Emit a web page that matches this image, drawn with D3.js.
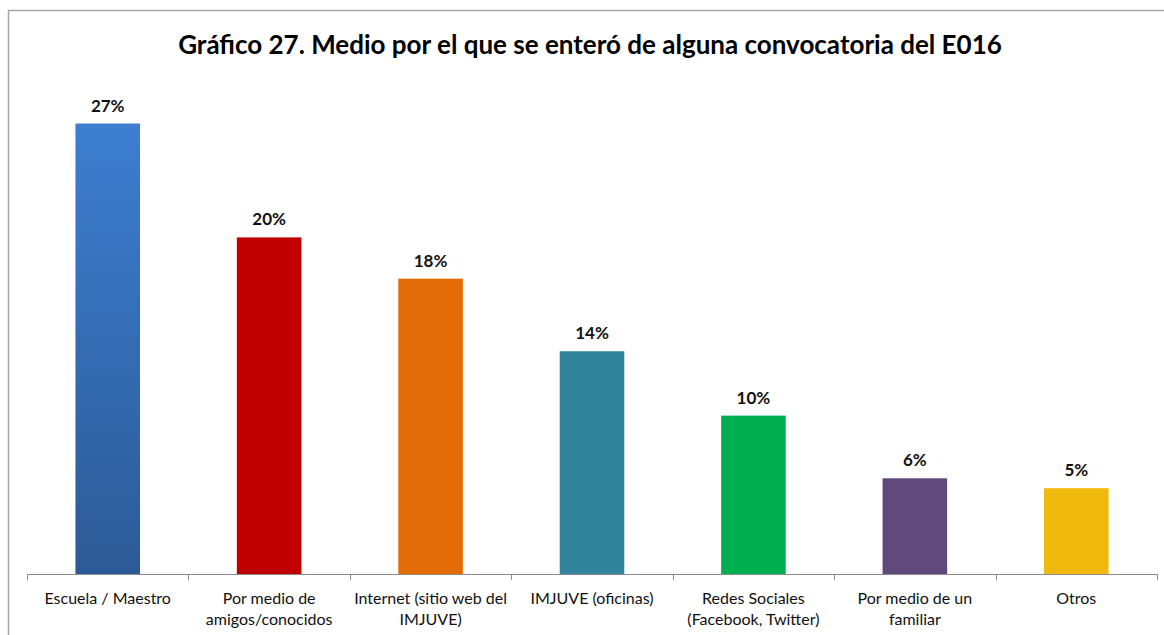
<!DOCTYPE html>
<html>
<head>
<meta charset="utf-8">
<script src="https://cdn.jsdelivr.net/npm/d3@7"></script>
<style>
    body { margin: 0; background: #fff; }
    svg { display: block; font-family: Lato, "Open Sans", sans-serif; }
</style>
</head>
<body>
<div id="chart"></div>
<script>
// Data_____________________________________________________________
const categories = [
    ["Escuela / Maestro"],
    ["Por medio de", "amigos/conocidos"],
    ["Internet (sitio web del", "IMJUVE)"],
    ["IMJUVE (oficinas)"],
    ["Redes Sociales", "(Facebook, Twitter)"],
    ["Por medio de un", "familiar"],
    ["Otros"]
];
const values = [27.3, 20.4, 17.9, 13.5, 9.6, 5.8, 5.2];
const valueLabels = ["27%", "20%", "18%", "14%", "10%", "6%", "5%"];
const barColors = ["url(#blueGrad)", "#C00000", "#E36C09", "#31849B", "#00B050", "#604A7B", "#F0B90E"];
const title = "Gráfico 27. Medio por el que se enteró de alguna convocatoria del E016";

// Layout____________________________________________________________
const width = 1164;
const height = 635;
const axisY = 574;
const xLeft = 27;
const xRight = 1157;

const svg = d3.select("#chart")
    .append("svg")
    .attr("width", width)
    .attr("height", height);

// gradient for first bar
const grad = svg.append("defs")
    .append("linearGradient")
    .attr("id", "blueGrad")
    .attr("x1", 0).attr("y1", 0)
    .attr("x2", 0).attr("y2", 1);
grad.append("stop").attr("offset", "0%").attr("stop-color", "#3D7ED1");
grad.append("stop").attr("offset", "100%").attr("stop-color", "#2C5A96");

// chart frame (left + top edges visible)
svg.append("path")
    .attr("d", `M8.5,${height} L8.5,10.5 L${width},10.5`)
    .attr("fill", "none")
    .attr("stroke", "#A6A6A6")
    .attr("stroke-width", 1.5);

svg.append("text")
    .attr("x", 590)
    .attr("y", 54)
    .attr("text-anchor", "middle")
    .attr("font-size", 26)
    .attr("font-weight", "bold")
    .attr("fill", "#000")
    .text(title);

// Scales____________________________________________________________
const xScale = d3.scaleBand()
    .domain(d3.range(categories.length))
    .range([xLeft, xRight])
    .paddingInner(0.6)
    .paddingOuter(0.3);

const yScale = d3.scaleLinear()
    .domain([0, 30])
    .range([axisY, axisY - 30 * 16.5]);

// Bars_______________________________________________________________
svg.selectAll("rect.bar")
    .data(values)
    .enter()
    .append("rect")
    .attr("class", "bar")
    .attr("x", (d, i) => xScale(i))
    .attr("y", d => yScale(d))
    .attr("width", xScale.bandwidth())
    .attr("height", d => axisY - yScale(d))
    .attr("fill", (d, i) => barColors[i]);

svg.selectAll("text.val")
    .data(values)
    .enter()
    .append("text")
    .attr("class", "val")
    .attr("x", (d, i) => xScale(i) + xScale.bandwidth() / 2)
    .attr("y", d => yScale(d) - 12)
    .attr("text-anchor", "middle")
    .attr("font-size", 17)
    .attr("font-weight", "bold")
    .attr("fill", "#111")
    .text((d, i) => valueLabels[i]);

// Axis_______________________________________________________________
const step = (xRight - xLeft) / categories.length;
const boundaries = d3.range(categories.length + 1).map(i => xLeft + i * step);

const axis = svg.append("g").attr("class", "axis");
axis.append("line")
    .attr("x1", xLeft).attr("x2", xRight)
    .attr("y1", axisY + 0.5).attr("y2", axisY + 0.5)
    .attr("stroke", "#8C8C8C");
axis.selectAll("line.tick")
    .data(boundaries)
    .enter()
    .append("line")
    .attr("class", "tick")
    .attr("x1", d => Math.round(d) + 0.5).attr("x2", d => Math.round(d) + 0.5)
    .attr("y1", axisY).attr("y2", axisY + 6)
    .attr("stroke", "#8C8C8C");

const catLabels = axis.selectAll("text.cat")
    .data(categories)
    .enter()
    .append("text")
    .attr("class", "cat")
    .attr("text-anchor", "middle")
    .attr("font-size", 16)
    .attr("fill", "#111");
catLabels.selectAll("tspan")
    .data((d, i) => d.map(line => ({ line, i })))
    .enter()
    .append("tspan")
    .attr("x", d => xScale(d.i) + xScale.bandwidth() / 2)
    .attr("y", (d, j) => 604 + j * 21)
    .text(d => d.line);
</script>
</body>
</html>
